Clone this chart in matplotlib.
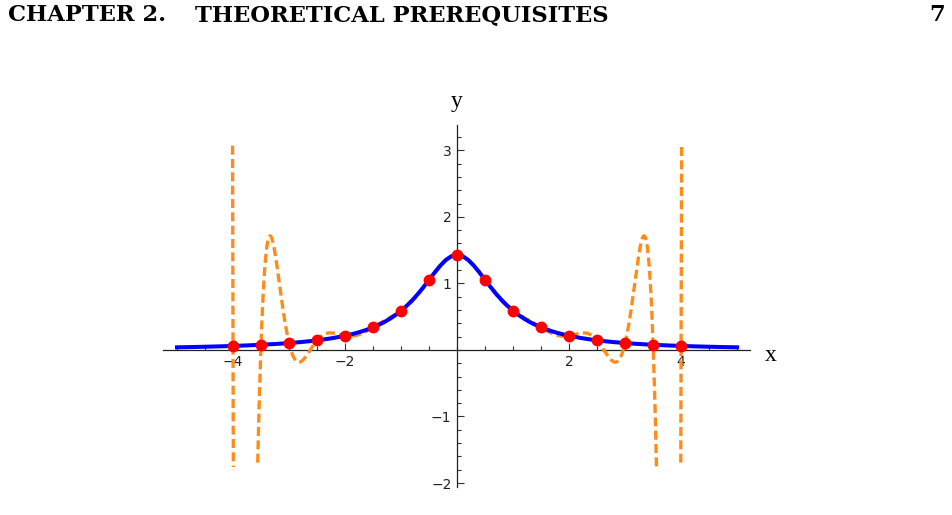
import numpy as np
import matplotlib
matplotlib.use("Agg")
import matplotlib.pyplot as plt
from matplotlib.patches import Rectangle
from matplotlib.ticker import MultipleLocator, FixedLocator

# sample nodes (red points)
node_x = [-4, -3.5, -3, -2.5, -2, -1.5, -1, -0.5, 0, 0.5, 1, 1.5, 2, 2.5, 3, 3.5, 4]
node_y = [0.0599, 0.0772, 0.1031, 0.1439, 0.2128, 0.3390, 0.5882, 1.0526, 1.4286,
          1.0526, 0.5882, 0.3390, 0.2128, 0.1439, 0.1031, 0.0772, 0.0599]

# blue curve readings (finer near the peak)
curve_x = [-5.0, -4.8, -4.6, -4.4, -4.2, -4.0, -3.8, -3.6, -3.4, -3.2, -3.0, -2.8, -2.6,
           -2.4, -2.2,
           -2.0, -1.9, -1.8, -1.7, -1.6, -1.5, -1.4, -1.3, -1.2, -1.1, -1.0, -0.9, -0.8,
           -0.7, -0.6, -0.5, -0.4, -0.3, -0.2, -0.1, 0.0, 0.1, 0.2, 0.3, 0.4, 0.5, 0.6,
           0.7, 0.8, 0.9, 1.0, 1.1, 1.2, 1.3, 1.4, 1.5, 1.6, 1.7, 1.8, 1.9, 2.0,
           2.2, 2.4, 2.6, 2.8, 3.0, 3.2, 3.4, 3.6, 3.8, 4.0, 4.2, 4.4, 4.6, 4.8, 5.0]
curve_y = [0.0389, 0.0421, 0.0457, 0.0499, 0.0545, 0.0599, 0.0661, 0.0732, 0.0816, 0.0914,
           0.1031, 0.1171, 0.1340, 0.1548, 0.1805,
           0.2128, 0.2320, 0.2538, 0.2786, 0.3067, 0.3390, 0.3759, 0.4184, 0.4673, 0.5236,
           0.5882, 0.6623, 0.7463, 0.8403, 0.9434, 1.0526, 1.1628, 1.2658, 1.3514, 1.4085,
           1.4286,
           1.4085, 1.3514, 1.2658, 1.1628, 1.0526, 0.9434, 0.8403, 0.7463, 0.6623, 0.5882,
           0.5236, 0.4673, 0.4184, 0.3759, 0.3390, 0.3067, 0.2786, 0.2538, 0.2320, 0.2128,
           0.1805, 0.1548, 0.1340, 0.1171, 0.1031, 0.0914, 0.0816, 0.0732, 0.0661, 0.0599,
           0.0545, 0.0499, 0.0457, 0.0421, 0.0389]

x_ticks = [-4, -2, 2, 4]
y_ticks = [-2, -1, 1, 2, 3]

fig = plt.figure(figsize=(9.52, 5.15), dpi=100)
ax = fig.add_axes([163 / 952, 28 / 515, 587 / 952, 362 / 515])
ax.set_xlim(-5.25, 5.23)
ax.set_ylim(-2.06, 3.38)

# interpolating polynomial through the nodes
poly = np.polynomial.Polynomial.fit(node_x, node_y, len(node_x) - 1)
px = np.linspace(-4.08, 4.08, 4000)
orange, = ax.plot(px, poly(px), color="#ff8c1a", lw=2.4, dashes=(2.7, 1.3),
                  dash_capstyle="butt", zorder=3)
orange.set_clip_path(Rectangle((-6, -1.76), 12, 4.87, transform=ax.transData))

ax.plot(curve_x, curve_y, color="#0000ff", lw=2.9, zorder=4)
ax.plot(node_x, node_y, "o", color="#ff0000", ms=8.5, mec="none", zorder=5)

# axes through the origin
for s in ["top", "right"]:
    ax.spines[s].set_visible(False)
ax.spines["left"].set_position(("data", 0))
ax.spines["bottom"].set_position(("data", 0))
for s in ["left", "bottom"]:
    ax.spines[s].set_linewidth(0.9)
    ax.spines[s].set_color("#222222")

ax.xaxis.set_major_locator(FixedLocator(x_ticks))
ax.xaxis.set_minor_locator(MultipleLocator(0.5))
ax.yaxis.set_major_locator(FixedLocator(y_ticks))
ax.yaxis.set_minor_locator(MultipleLocator(0.2))
ax.set_xticklabels(["\u22124", "\u22122", "2", "4"])
ax.set_yticklabels(["\u22122", "\u22121", "1", "2", "3"])
ax.tick_params(which="both", direction="in", color="#333333", width=0.8,
               labelsize=10, labelcolor="#222222")
ax.tick_params(which="major", length=5, pad=4)
ax.tick_params(which="minor", length=3)
ax.patch.set_visible(False)

fig.text(771 / 952, 1 - 361 / 515, "x", fontsize=17, family="Liberation Serif",
         ha="center", va="baseline")
fig.text(457 / 952, 1 - 107 / 515, "y", fontsize=17, family="Liberation Serif",
         ha="center", va="baseline")

# page header
fig.text(8 / 952, 1 - 21 / 515, "CHAPTER 2.", fontsize=16.3, family="DejaVu Serif",
         weight="bold", ha="left", va="baseline")
fig.text(195 / 952, 1 - 21 / 515, "THEORETICAL PREREQUISITES", fontsize=16.3,
         family="DejaVu Serif", weight="bold", ha="left", va="baseline")
fig.text(945 / 952, 1 - 21 / 515, "7", fontsize=16.3, family="DejaVu Serif",
         weight="bold", ha="right", va="baseline")

fig.savefig("out.png", dpi=100)
